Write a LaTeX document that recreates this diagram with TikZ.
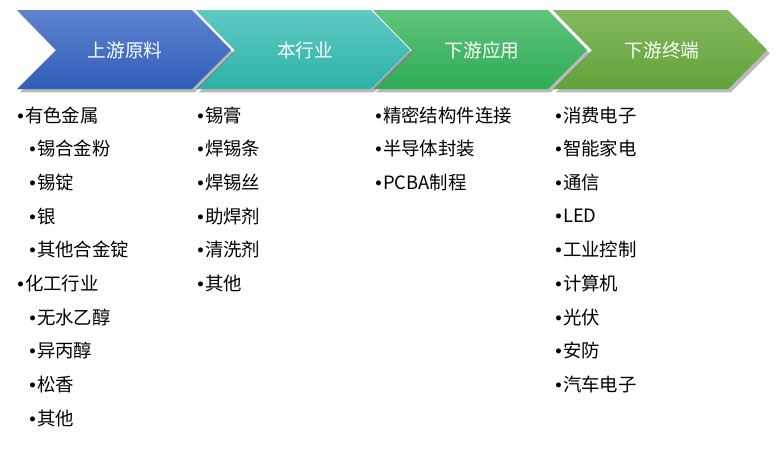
\documentclass[tikz,border=0pt]{standalone}
\usepackage{fontspec}
\setmainfont{Noto Sans CJK SC}
\newfontfamily\bulfont{Liberation Sans}
\usetikzlibrary{shadows}
\newcommand{\chevW}{175}
\newcommand{\chevD}{39}
\newcommand{\chevT}{10}
\newcommand{\chevM}{50}
\newcommand{\chevB}{89}
\newcommand{\rowH}{33.7}
\definecolor{upTop}{HTML}{5E84D0}
\definecolor{upBot}{HTML}{2F5DB7}
\definecolor{midTop}{HTML}{5FCAC2}
\definecolor{midBot}{HTML}{2DB2A7}
\definecolor{downTop}{HTML}{5FC47C}
\definecolor{downBot}{HTML}{2EAC54}
\definecolor{endTop}{HTML}{83BA5F}
\definecolor{endBot}{HTML}{62A239}

\newcommand{\chevbox}[3]{%
  \path[chev, top color=#2, bottom color=#3] (#1, \chevT) -- (#1+\chevW, \chevT) -- (#1+\chevW+\chevD, \chevM)
    -- (#1+\chevW, \chevB) -- (#1, \chevB) -- (#1+\chevD, \chevM) -- cycle;}
\newcommand{\bul}{{\bulfont •}\hspace{1pt}}

\begin{document}
\begin{tikzpicture}[x=0.75pt, y=-0.75pt,
    chev/.style={drop shadow={shadow xshift=2pt, shadow yshift=-2.5pt, fill=black!50, opacity=.55}},
    chevlabel/.style={text=white, inner sep=0pt, font=\fontsize{14}{16}\selectfont},
    item/.style={anchor=west, inner sep=0pt, font=\fontsize{13.8}{16}\selectfont}]
    \useasboundingbox (0, 0) rectangle (777, 451);

    % chevrons, right to left so each shadow lies on the next one
    \chevbox{553}{endTop}{endBot}
    \chevbox{373}{downTop}{downBot}
    \chevbox{196}{midTop}{midBot}
    \chevbox{17}{upTop}{upBot}

    % labels
    \node[chevlabel] (up) at (125, \chevM) {上游原料};
    \node[chevlabel] (mid) at (305, \chevM) {本行业};
    \node[chevlabel] (down) at (482, \chevM) {下游应用};
    \node[chevlabel] (end) at (662, \chevM) {下游终端};

    % raw materials
    \foreach \x/\t [count=\i] in {17/有色金属, 29/锡合金粉, 29/锡锭, 29/银, 29/其他合金锭,
        17/化工行业, 29/无水乙醇, 29/异丙醇, 29/松香, 29/其他}
        \node[item] (raw-\i) at (\x, 115+\rowH*\i-\rowH) {\bul\t};

    % industry
    \foreach \t [count=\i] in {锡膏, 焊锡条, 焊锡丝, 助焊剂, 清洗剂, 其他}
        \node[item] (ind-\i) at (197, 115+\rowH*\i-\rowH) {\bul\t};

    % applications
    \foreach \t [count=\i] in {精密结构件连接, 半导体封装, PCBA制程}
        \node[item] (app-\i) at (375, 115+\rowH*\i-\rowH) {\bul\t};

    % terminals
    \foreach \t [count=\i] in {消费电子, 智能家电, 通信, LED, 工业控制, 计算机, 光伏, 安防, 汽车电子}
        \node[item] (term-\i) at (555, 115+\rowH*\i-\rowH) {\bul\t};
\end{tikzpicture}
\end{document}
